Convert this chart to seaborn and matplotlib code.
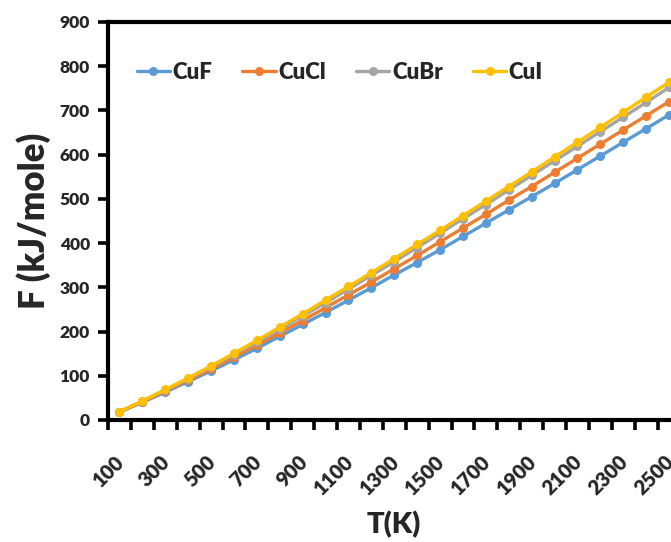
import matplotlib
matplotlib.use("Agg")
import matplotlib.pyplot as plt
import matplotlib.transforms as mtransforms
import seaborn as sns
import pandas as pd
import numpy as np

T = [100, 200, 300, 400, 500, 600, 700, 800, 900, 1000, 1100, 1200, 1300,
     1400, 1500, 1600, 1700, 1800, 1900, 2000, 2100, 2200, 2300, 2400, 2500]
CuF = [18, 40, 63, 87, 111, 136, 162, 189, 216, 243, 271, 299, 328, 356, 385,
       415, 445, 475, 505, 535, 566, 597, 628, 659, 690]
CuCl = [18, 41, 65, 90, 115, 142, 169, 197, 225, 254, 283, 312, 342, 372, 403,
        434, 465, 497, 528, 560, 592, 624, 656, 688, 720]
CuBr = [19, 42, 67, 93, 120, 148, 176, 205, 235, 265, 296, 327, 358, 390, 422,
        455, 487, 520, 553, 586, 619, 652, 685, 718, 752]
CuI = [19, 43, 69, 95, 122, 151, 180, 210, 240, 271, 302, 333, 365, 397, 429,
       462, 495, 528, 561, 595, 628, 662, 696, 730, 764]
series_names = ["CuF", "CuCl", "CuBr", "CuI"]
colors = ["#5B9BD5", "#ED7D31", "#A5A5A5", "#FFC000"]
x_labels = [100, 300, 500, 700, 900, 1100, 1300, 1500, 1700, 1900, 2100, 2300, 2500]
y_ticks = [0, 100, 200, 300, 400, 500, 600, 700, 800, 900]

sns.set_theme(style="white")
plt.rcParams['font.family'] = ['Lato', 'DejaVu Sans']
plt.rcParams['font.weight'] = 'bold'

df = pd.DataFrame({
    "T": T * 4,
    "F": CuF + CuCl + CuBr + CuI,
    "series": sum([[n] * len(T) for n in series_names], []),
})

fig = plt.figure(figsize=(6.71, 5.42), dpi=100)
ax = fig.add_axes([108 / 671, 122 / 542, 572.5 / 671, 398 / 542])

sns.lineplot(data=df, x="T", y="F", hue="series", hue_order=series_names,
             palette=colors, marker="o", markersize=6.5, markeredgewidth=0,
             linewidth=2.4, ax=ax)

ax.set_xlim(50, 2550)
ax.set_ylim(0, 900)
ax.set_yticks(y_ticks)
ax.set_xticks(x_labels)
ax.set_xticks(np.arange(50, 2551, 100), minor=True)
ax.set_xticklabels([str(v) for v in x_labels], rotation=45, ha="right",
                   va="top", rotation_mode="anchor", fontsize=14.5, fontweight="heavy")
ax.set_yticklabels([str(v) for v in y_ticks], fontsize=12.5, fontweight="heavy")
ax.tick_params(axis="x", which="major", length=0, pad=23)
ax.tick_params(axis="x", which="minor", length=7, width=2.6, color="black",
               direction="out", bottom=True)
ax.tick_params(axis="y", which="major", length=7, width=2.6, color="black",
               direction="out", left=True, pad=6)
offset = mtransforms.ScaledTranslation(-0.05, 0, fig.dpi_scale_trans)
for lbl in ax.get_xticklabels():
    lbl.set_transform(lbl.get_transform() + offset)

for s in ax.spines.values():
    s.set_linewidth(3)
    s.set_color("black")

ax.set_xlabel("T(K)", fontsize=21, fontweight="heavy", labelpad=9)
ax.set_ylabel("F (kJ/mole)", fontsize=25, fontweight="heavy", labelpad=6)

leg = ax.legend(loc="upper left", bbox_to_anchor=(0.015, 0.95), ncol=4,
                frameon=False, handlelength=1.5, handletextpad=0.12,
                columnspacing=1.35, prop={"size": 16, "weight": "heavy"})

fig.savefig("out.png", dpi=100)
